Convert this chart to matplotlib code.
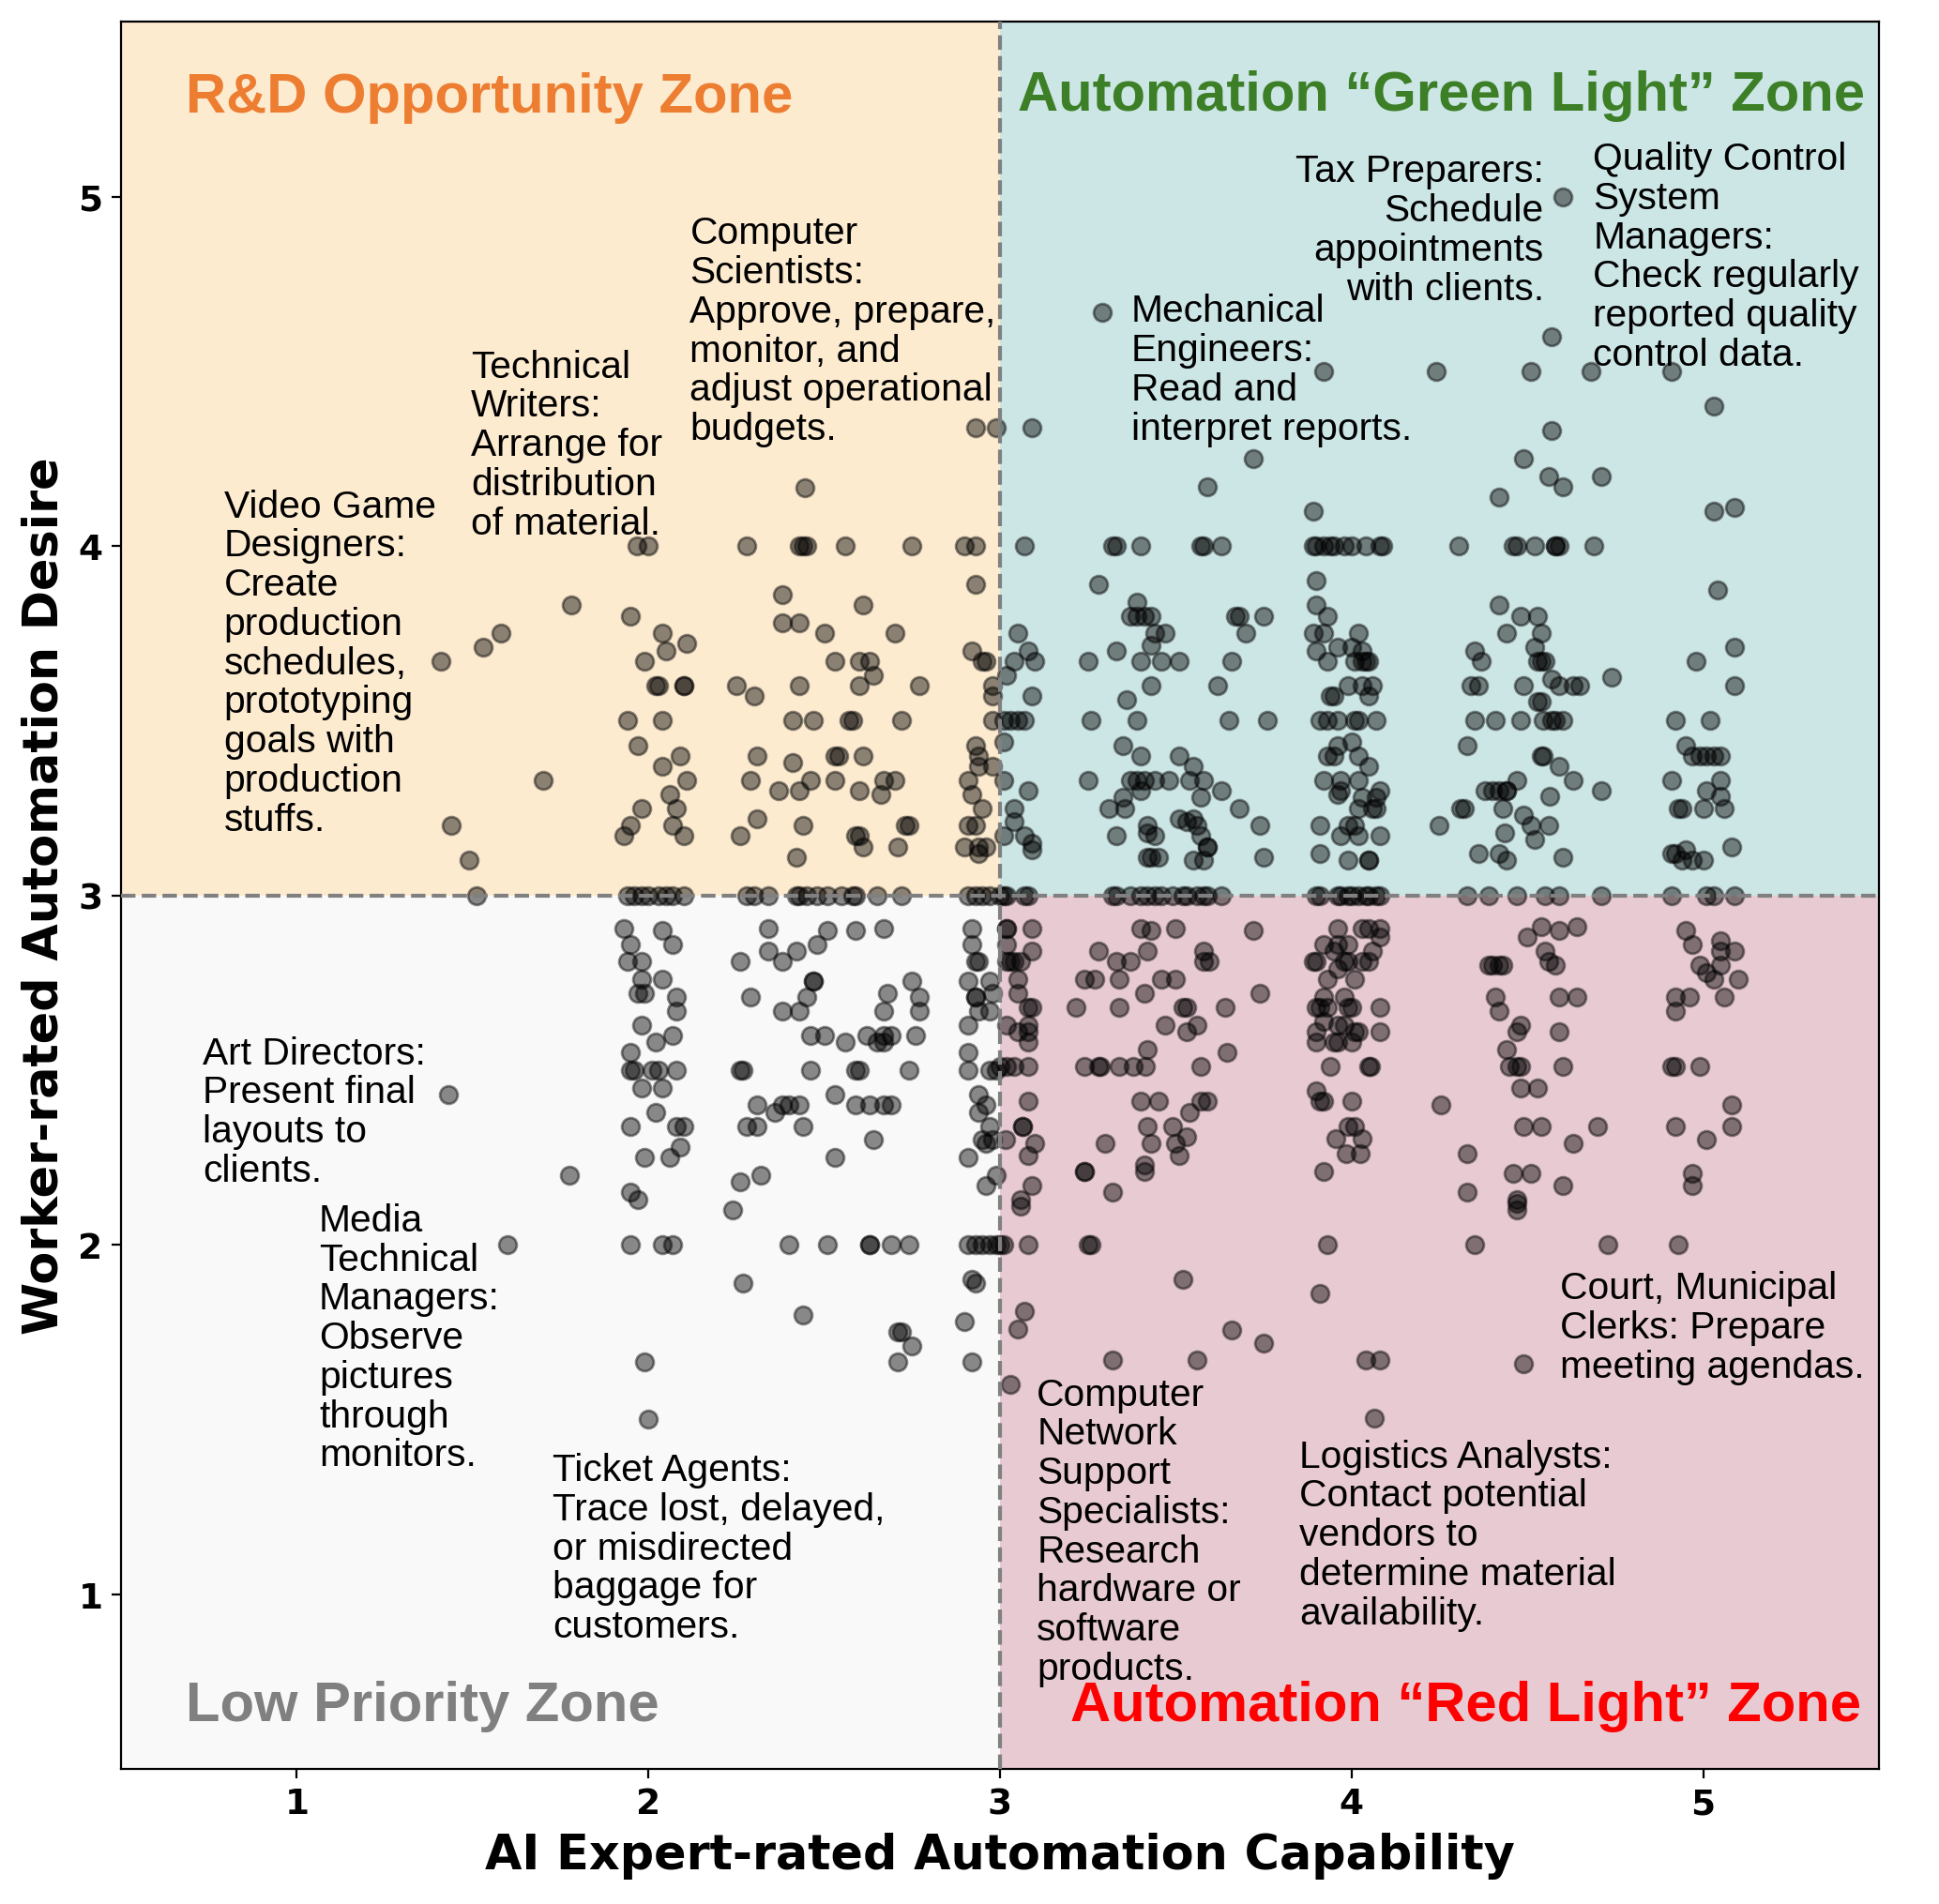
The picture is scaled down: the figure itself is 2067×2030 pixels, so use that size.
import matplotlib
matplotlib.use("Agg")
import matplotlib.pyplot as plt
from matplotlib.patches import Rectangle
import numpy as np

# ---------------- data (AI capability, worker desire) ----------------
tl_x = [2.446, 2.93, 2.99,
        1.967, 1.999, 2.28, 2.43, 2.44, 2.45, 2.56, 2.75, 2.90, 2.93,
        2.93, 2.38, 1.78, 2.61, 1.95, 2.38, 2.43, 1.58, 2.04, 2.50, 2.70,
        1.53, 2.11, 2.05, 2.92, 1.41, 1.99, 2.53, 2.60, 2.63, 2.95, 2.96, 2.64,
        2.02, 2.03, 2.10, 2.10, 2.25, 2.43, 2.60, 2.77, 2.98, 2.30, 2.98,
        1.94, 2.04, 2.41, 2.47, 2.57, 2.58, 2.72, 2.98, 1.97, 2.93,
        2.09, 2.31, 2.53, 2.54, 2.61, 2.94, 2.04, 2.41, 2.94, 2.98,
        1.70, 2.11, 2.29, 2.46, 2.53, 2.67, 2.70, 2.91, 2.37, 2.43, 2.60,
        2.66, 2.06, 2.92, 1.98, 2.08, 2.95, 2.31,
        1.44, 1.95, 2.07, 2.44, 2.73, 2.74, 2.91, 2.93,
        1.93, 2.10, 2.26, 2.59, 2.60, 2.61, 2.71, 2.90, 2.94, 2.96, 2.94,
        1.49, 2.42,
        1.51, 1.94, 1.96, 1.98, 2.00, 2.03, 2.05, 2.07, 2.10, 2.28, 2.30, 2.34,
        2.42, 2.43, 2.45, 2.48, 2.51, 2.55, 2.58, 2.59, 2.65, 2.72, 2.91, 2.93,
        2.95, 2.97]
tl_y = [4.166, 4.34, 4.34,
        4.0, 4.0, 4.0, 4.0, 4.0, 4.0, 4.0, 4.0, 4.0, 4.0,
        3.89, 3.86, 3.83, 3.83, 3.80, 3.78, 3.78, 3.75, 3.75, 3.75, 3.75,
        3.71, 3.72, 3.70, 3.70, 3.67, 3.67, 3.67, 3.67, 3.67, 3.67, 3.67, 3.63,
        3.60, 3.60, 3.60, 3.60, 3.60, 3.60, 3.60, 3.60, 3.60, 3.57, 3.57,
        3.50, 3.50, 3.50, 3.50, 3.50, 3.50, 3.50, 3.50, 3.43, 3.43,
        3.40, 3.40, 3.40, 3.40, 3.40, 3.40, 3.37, 3.38, 3.37, 3.37,
        3.33, 3.33, 3.33, 3.33, 3.33, 3.33, 3.33, 3.33, 3.30, 3.30, 3.30,
        3.29, 3.29, 3.29, 3.25, 3.25, 3.25, 3.22,
        3.20, 3.20, 3.20, 3.20, 3.20, 3.20, 3.20, 3.20,
        3.17, 3.17, 3.17, 3.17, 3.17, 3.14, 3.14, 3.14, 3.14, 3.14, 3.12,
        3.10, 3.11,
        3.0, 3.0, 3.0, 3.0, 3.0, 3.0, 3.0, 3.0, 3.0, 3.0, 3.0, 3.0,
        3.0, 3.0, 3.0, 3.0, 3.0, 3.0, 3.0, 3.0, 3.0, 3.0, 3.0, 3.0,
        3.0, 3.0]

bl_x = [1.43, 1.775, 1.60,
        1.93, 2.04, 1.95, 2.07, 1.94, 1.98, 1.98, 2.04, 1.97, 1.99, 2.08, 2.08,
        1.98, 2.07, 2.02, 1.95, 1.95, 1.96, 2.01, 2.03, 2.08, 1.98, 2.04, 2.02,
        1.95, 2.08, 2.10, 2.09, 1.99, 2.06, 1.95, 1.97, 1.95, 2.04, 2.07, 1.99, 2.0,
        2.34, 2.51, 2.59, 2.67, 2.48, 2.34, 2.42, 2.38, 2.26, 2.47, 2.47, 2.75,
        2.29, 2.45, 2.68, 2.77, 2.38, 2.43, 2.67, 2.77, 2.46, 2.50, 2.56, 2.62,
        2.65, 2.67, 2.67, 2.69, 2.76, 2.26, 2.27, 2.46, 2.59, 2.60, 2.74, 2.53,
        2.31, 2.38, 2.40, 2.43, 2.36, 2.59, 2.63, 2.67, 2.69, 2.28, 2.31, 2.44,
        2.64, 2.53, 2.32, 2.26, 2.24, 2.40, 2.51, 2.63, 2.63, 2.69, 2.74, 2.27,
        2.44, 2.71, 2.72, 2.75, 2.71,
        2.92, 2.92, 2.93, 2.94, 2.91, 2.97, 2.93, 2.93, 2.94, 2.97, 2.98, 2.91,
        2.91, 2.91, 2.97, 2.99, 2.94, 2.96, 2.94, 2.97, 2.95, 2.96, 2.98, 2.91,
        2.99, 2.96, 2.91, 2.93, 2.95, 2.97, 2.99, 2.92, 2.93, 2.90, 2.92]
bl_y = [2.43, 2.20, 2.0,
        2.905, 2.90, 2.86, 2.86, 2.81, 2.81, 2.76, 2.76, 2.72, 2.72, 2.71, 2.67,
        2.63, 2.60, 2.58, 2.55, 2.50, 2.50, 2.50, 2.50, 2.50, 2.45, 2.45, 2.38,
        2.34, 2.34, 2.34, 2.28, 2.25, 2.25, 2.15, 2.13, 2.0, 2.0, 2.0, 1.665, 1.50,
        2.905, 2.90, 2.90, 2.905, 2.86, 2.84, 2.84, 2.81, 2.81, 2.755, 2.755, 2.755,
        2.71, 2.71, 2.72, 2.71, 2.67, 2.67, 2.67, 2.67, 2.60, 2.60, 2.58, 2.60,
        2.58, 2.58, 2.60, 2.60, 2.60, 2.50, 2.50, 2.50, 2.50, 2.50, 2.50, 2.43,
        2.40, 2.40, 2.40, 2.40, 2.38, 2.40, 2.40, 2.40, 2.40, 2.34, 2.34, 2.34,
        2.30, 2.25, 2.20, 2.18, 2.10, 2.0, 2.0, 2.0, 2.0, 2.0, 2.0, 1.89,
        1.80, 1.75, 1.75, 1.71, 1.665,
        2.905, 2.86, 2.81, 2.81, 2.755, 2.755, 2.71, 2.71, 2.67, 2.67, 2.72, 2.63,
        2.55, 2.50, 2.50, 2.50, 2.43, 2.40, 2.38, 2.34, 2.30, 2.29, 2.30, 2.25,
        2.20, 2.17, 2.0, 2.0, 2.0, 2.0, 2.0, 1.90, 1.89, 1.78, 1.665]

tr_x = [3.29, 3.92, 3.09, 3.72, 3.59, 3.89,
        3.07, 3.32, 3.33, 3.40, 3.57, 3.58, 3.63, 3.89, 3.90, 3.92, 3.94, 3.95,
        3.98, 4.00, 4.04, 4.08, 4.09,
        3.28, 3.39, 3.37, 3.39, 3.41, 3.43, 3.67, 3.68, 3.75, 3.70, 3.05, 3.44,
        3.47, 3.08, 3.43, 3.33,
        3.90, 3.90, 3.93, 3.89, 3.92, 4.02, 3.96, 4.00, 4.03, 3.90,
        3.04, 3.10, 3.02, 3.25, 3.40, 3.46, 3.51, 3.66, 3.93, 4.01, 4.03, 4.05, 4.04,
        3.43, 3.62, 3.99, 4.03, 4.06, 3.09, 3.36, 3.94, 3.95, 4.05,
        3.01, 3.03, 3.05, 3.07, 3.26, 3.39, 3.65, 3.76, 3.91, 3.93, 3.96, 4.01, 4.02, 4.07,
        3.01, 3.96, 4.00, 3.35, 3.40, 3.51, 3.55, 3.93, 3.95, 4.02, 4.05,
        3.25, 3.37, 3.39, 3.41, 3.44, 3.48, 3.54, 3.58, 3.01, 3.92, 3.97, 4.02,
        3.40, 3.08, 3.63, 3.57, 3.97, 3.96, 4.08, 4.07, 4.03, 3.35,
        3.04, 3.31, 3.355, 3.68, 4.02, 4.06, 4.07,
        3.04, 3.51, 3.55, 3.42, 3.53, 3.56, 3.74, 3.91, 3.99, 4.01,
        3.07, 3.09, 3.09, 3.01, 3.33, 3.44, 3.42, 3.57, 3.59, 3.59, 3.97, 4.02, 4.08,
        3.42, 3.43, 3.45, 3.55, 3.58, 3.75, 3.91, 3.99, 4.05, 4.05,
        3.00, 3.01, 3.02, 3.07, 3.08, 3.32, 3.33, 3.37, 3.40, 3.42, 3.44, 3.46,
        3.49, 3.52, 3.53, 3.56, 3.58, 3.59, 3.63, 3.90, 3.91, 3.96, 3.97, 3.99,
        4.00, 4.02, 4.04, 4.05, 4.07, 4.08,
        4.60, 4.57, 4.24, 4.51, 4.68, 4.91, 5.03, 4.57, 4.49, 4.56, 4.60, 4.71,
        4.42, 5.03, 5.09,
        4.305, 4.46, 4.47, 4.52, 4.58, 4.58, 4.59, 4.69,
        5.04, 4.42, 4.48, 4.53, 4.44, 4.54, 4.35, 4.52, 4.37, 4.53, 4.54, 4.55,
        5.09, 4.98, 4.74,
        4.34, 4.36, 4.49, 4.57, 4.59, 4.63, 4.65, 5.09, 4.53, 4.54,
        4.35, 4.41, 4.48, 4.545, 4.57, 4.58, 4.60, 4.92, 5.02,
        4.33, 4.54, 4.545, 4.59, 4.95, 4.97, 4.99, 5.01, 5.03, 5.05,
        4.47, 4.63, 4.38, 4.40, 4.42, 4.44, 4.44, 4.565, 4.71, 4.31, 4.32, 4.43,
        4.91, 5.05, 5.01, 5.05, 4.93, 4.94, 5.00, 5.06,
        4.25, 4.49, 4.51, 4.52, 4.56, 4.435, 4.36, 4.42, 4.44, 4.60,
        4.91, 4.92, 4.94, 4.95, 4.97, 5.00, 5.08,
        4.33, 4.39, 4.47, 4.55, 4.59, 4.71, 4.91, 5.01, 5.03, 5.09]
tr_y = [4.67, 4.50, 4.34, 4.25, 4.17, 4.10,
        4.0, 4.0, 4.0, 4.0, 4.0, 4.0, 4.0, 4.0, 4.0, 4.0, 4.0, 4.0,
        4.0, 4.0, 4.0, 4.0, 4.0,
        3.89, 3.84, 3.80, 3.80, 3.80, 3.80, 3.80, 3.80, 3.80, 3.75, 3.75, 3.75,
        3.75, 3.70, 3.715, 3.70,
        3.90, 3.83, 3.80, 3.75, 3.75, 3.75, 3.71, 3.71, 3.70, 3.70,
        3.67, 3.67, 3.63, 3.67, 3.67, 3.67, 3.67, 3.67, 3.67, 3.67, 3.67, 3.67, 3.67,
        3.60, 3.60, 3.60, 3.60, 3.60, 3.57, 3.56, 3.57, 3.57, 3.57,
        3.50, 3.50, 3.50, 3.50, 3.50, 3.50, 3.50, 3.50, 3.50, 3.50, 3.50, 3.50, 3.50, 3.50,
        3.44, 3.43, 3.44, 3.43, 3.40, 3.40, 3.37, 3.40, 3.40, 3.40, 3.37,
        3.33, 3.33, 3.33, 3.33, 3.33, 3.33, 3.33, 3.33, 3.33, 3.33, 3.33, 3.33,
        3.30, 3.30, 3.30, 3.28, 3.30, 3.29, 3.30, 3.28, 3.28, 3.28,
        3.25, 3.25, 3.25, 3.25, 3.25, 3.25, 3.25,
        3.21, 3.22, 3.22, 3.20, 3.21, 3.20, 3.20, 3.20, 3.20, 3.20,
        3.17, 3.15, 3.13, 3.17, 3.17, 3.17, 3.18, 3.17, 3.14, 3.14, 3.17, 3.17, 3.17,
        3.11, 3.11, 3.11, 3.10, 3.10, 3.11, 3.12, 3.10, 3.10, 3.10,
        3.0, 3.0, 3.0, 3.0, 3.0, 3.0, 3.0, 3.0, 3.0, 3.0, 3.0, 3.0,
        3.0, 3.0, 3.0, 3.0, 3.0, 3.0, 3.0, 3.0, 3.0, 3.0, 3.0, 3.0,
        3.0, 3.0, 3.0, 3.0, 3.0, 3.0,
        5.00, 4.60, 4.50, 4.50, 4.50, 4.50, 4.40, 4.33, 4.25, 4.20, 4.17, 4.20,
        4.14, 4.10, 4.11,
        4.0, 4.0, 4.0, 4.0, 4.0, 4.0, 4.0, 4.0,
        3.875, 3.83, 3.80, 3.80, 3.75, 3.75, 3.70, 3.71, 3.67, 3.67, 3.67, 3.67,
        3.71, 3.67, 3.625,
        3.60, 3.60, 3.60, 3.62, 3.60, 3.60, 3.60, 3.60, 3.555, 3.555,
        3.50, 3.50, 3.50, 3.50, 3.50, 3.50, 3.50, 3.50, 3.50,
        3.43, 3.40, 3.40, 3.37, 3.43, 3.40, 3.40, 3.40, 3.40, 3.40,
        3.33, 3.33, 3.30, 3.30, 3.30, 3.30, 3.30, 3.285, 3.30, 3.25, 3.25, 3.25,
        3.33, 3.33, 3.30, 3.285, 3.25, 3.25, 3.25, 3.25,
        3.20, 3.23, 3.20, 3.16, 3.20, 3.18, 3.12, 3.12, 3.10, 3.11,
        3.12, 3.12, 3.10, 3.13, 3.10, 3.10, 3.14,
        3.0, 3.0, 3.0, 3.0, 3.0, 3.0, 3.0, 3.0, 3.0, 3.0]

br_x = [3.02, 3.02, 3.09, 3.02, 3.09, 3.02, 3.03, 3.04, 3.06, 3.05, 3.05, 3.08,
        3.09, 3.08, 3.02, 3.05, 3.08, 3.08, 3.00, 3.02, 3.04, 3.08, 3.08, 3.065,
        3.065, 3.015, 3.10, 3.08, 3.09, 3.06, 3.06, 3.00, 3.01, 3.08, 3.07, 3.05, 3.03,
        3.40, 3.43, 3.50, 3.72, 3.28, 3.42, 3.58, 3.58, 3.595, 3.33, 3.37, 3.24,
        3.27, 3.34, 3.46, 3.50, 3.41, 3.74, 3.215, 3.34, 3.52, 3.53, 3.64, 3.47,
        3.56, 3.53, 3.42, 3.645,
        3.24, 3.28, 3.285, 3.34, 3.38, 3.415, 3.57, 3.40, 3.45, 3.54, 3.57, 3.59,
        3.42, 3.49, 3.43, 3.53, 3.50, 3.51, 3.30, 3.24, 3.24, 3.41, 3.41, 3.32,
        3.25, 3.26, 3.52, 3.66, 3.75, 3.32, 3.56,
        3.96, 4.03, 4.05, 4.08, 4.08, 3.92, 3.96, 3.99, 4.06, 3.95, 3.89, 3.90,
        3.98, 3.99, 4.03, 4.05, 3.96, 3.93, 4.01, 3.92, 3.98, 3.90, 3.91, 3.93,
        3.99, 4.00, 4.08, 3.92, 3.96, 3.98, 3.90, 4.01, 4.02, 4.08, 3.90, 3.95,
        3.96, 4.00, 3.94, 4.05, 4.055, 3.90, 3.91, 3.92, 4.00, 3.99, 4.01, 3.955,
        4.03, 3.985, 4.025, 3.92, 3.93, 3.91, 4.04, 4.08, 4.065,
        4.50, 4.54, 4.59, 4.64, 4.55, 4.39, 4.40, 4.42, 4.43, 4.56, 4.58, 4.41,
        4.42, 4.59, 4.64, 4.48, 4.47, 4.59, 4.44, 4.45, 4.47, 4.48, 4.60, 4.48,
        4.53, 4.255, 4.49, 4.54, 4.70, 4.63, 4.33, 4.46, 4.51, 4.60, 4.33, 4.47,
        4.47, 4.47, 4.35, 4.73, 4.93, 4.49,
        4.95, 4.97, 5.05, 5.05, 5.09, 5.05, 4.99, 5.01, 5.03, 5.10, 4.92, 4.96,
        4.92, 5.06, 4.91, 4.92, 4.99, 5.08, 4.92, 5.08, 5.01, 4.97, 4.97]
br_y = [2.906, 2.906, 2.906, 2.86, 2.84, 2.81, 2.81, 2.81, 2.81, 2.76, 2.72, 2.68,
        2.68, 2.63, 2.63, 2.61, 2.61, 2.58, 2.51, 2.51, 2.51, 2.51, 2.41, 2.34,
        2.34, 2.30, 2.29, 2.255, 2.17, 2.13, 2.11, 2.0, 2.0, 2.0, 1.81, 1.76, 1.60,
        2.906, 2.90, 2.906, 2.90, 2.84, 2.84, 2.84, 2.81, 2.81, 2.81, 2.81, 2.76,
        2.76, 2.76, 2.76, 2.76, 2.72, 2.72, 2.68, 2.68, 2.68, 2.68, 2.68, 2.63,
        2.63, 2.61, 2.56, 2.55,
        2.51, 2.51, 2.51, 2.51, 2.51, 2.51, 2.51, 2.41, 2.41, 2.38, 2.41, 2.41,
        2.34, 2.34, 2.29, 2.31, 2.29, 2.255, 2.29, 2.21, 2.21, 2.23, 2.21, 2.15,
        2.0, 2.0, 1.90, 1.755, 1.72, 1.67, 1.67,
        2.906, 2.906, 2.906, 2.906, 2.88, 2.86, 2.86, 2.86, 2.84, 2.84, 2.81, 2.81,
        2.81, 2.81, 2.81, 2.81, 2.79, 2.76, 2.76, 2.71, 2.71, 2.68, 2.68, 2.68,
        2.68, 2.68, 2.68, 2.64, 2.63, 2.63, 2.61, 2.61, 2.61, 2.61, 2.58, 2.58,
        2.58, 2.58, 2.51, 2.51, 2.51, 2.44, 2.41, 2.41, 2.41, 2.34, 2.34, 2.305,
        2.305, 2.26, 2.26, 2.21, 2.0, 1.86, 1.67, 1.67, 1.505,
        2.88, 2.91, 2.90, 2.91, 2.84, 2.80, 2.80, 2.80, 2.80, 2.81, 2.80, 2.71,
        2.67, 2.71, 2.71, 2.63, 2.61, 2.61, 2.56, 2.51, 2.51, 2.51, 2.51, 2.45,
        2.45, 2.40, 2.34, 2.34, 2.34, 2.29, 2.26, 2.205, 2.205, 2.17, 2.15, 2.13,
        2.12, 2.10, 2.0, 2.0, 2.0, 1.66,
        2.90, 2.86, 2.87, 2.84, 2.84, 2.80, 2.80, 2.78, 2.76, 2.76, 2.71, 2.71,
        2.67, 2.71, 2.51, 2.51, 2.51, 2.40, 2.34, 2.34, 2.30, 2.205, 2.17]

capability = np.array(tl_x + bl_x + tr_x + br_x)
desire = np.array(tl_y + bl_y + tr_y + br_y)

# annotated example tasks
notes = [
    "Video Game\nDesigners:\nCreate\nproduction\nschedules,\nprototyping\ngoals with\nproduction\nstuffs.",
    "Technical\nWriters:\nArrange for\ndistribution\nof material.",
    "Computer\nScientists:\nApprove, prepare,\nmonitor, and\nadjust operational\nbudgets.",
    "Mechanical\nEngineers:\nRead and\ninterpret reports.",
    "Tax Preparers:\nSchedule\nappointments\nwith clients.",
    "Quality Control\nSystem\nManagers:\nCheck regularly\nreported quality\ncontrol data.",
    "Art Directors:\nPresent final\nlayouts to\nclients.",
    "Media\nTechnical\nManagers:\nObserve\npictures\nthrough\nmonitors.",
    "Ticket Agents:\nTrace lost, delayed,\nor misdirected\nbaggage for\ncustomers.",
    "Computer\nNetwork\nSupport\nSpecialists:\nResearch\nhardware or\nsoftware\nproducts.",
    "Logistics Analysts:\nContact potential\nvendors to\ndetermine material\navailability.",
    "Court, Municipal\nClerks: Prepare\nmeeting agendas.",
]
note_x = [0.793, 1.496, 2.118, 3.373, 4.547, 4.687, 0.733, 1.063, 1.728, 3.105, 3.851, 4.592]
note_y = [4.165, 4.565, 4.947, 4.724, 5.124, 5.16, 2.60, 2.122, 1.407, 1.623, 1.446, 1.927]
note_ha = ["left", "left", "left", "left", "right", "left",
           "left", "left", "left", "left", "left", "left"]

zone_names = ["R&D Opportunity Zone", "Automation \u201cGreen Light\u201d Zone",
              "Low Priority Zone", "Automation \u201cRed Light\u201d Zone"]
zone_colors = ["#ED7D31", "#3C7F26", "#808080", "#FF0000"]
zone_bg = ["#FDEBD0", "#CCE5E5", "#F9F9F9", "#E7CAD2"]

# ---------------- figure ----------------
fig = plt.figure(figsize=(10.335, 10.155), dpi=200)
ax = fig.add_axes([0.0624, 0.0709, 0.9066, 0.9171])
ax.set_xlim(0.5, 5.5)
ax.set_ylim(0.5, 5.5)

# quadrant backgrounds
quads = [(0.5, 3.0), (3.0, 3.0), (0.5, 0.5), (3.0, 0.5)]
for (qx, qy), col in zip(quads, zone_bg):
    ax.add_patch(Rectangle((qx, qy), 2.5, 2.5, facecolor=col, edgecolor="none", zorder=0))

ax.scatter(capability, desire, s=46, c="black", alpha=0.45,
           edgecolors="black", linewidths=1.0, zorder=2)

ax.axvline(3, color="gray", linestyle="--", linewidth=1.5, zorder=3)
ax.axhline(3, color="gray", linestyle="--", linewidth=1.5, zorder=3)

for txt, tx, ty, ha in zip(notes, note_x, note_y, note_ha):
    ax.text(tx, ty, txt, ha=ha, va="top", multialignment=ha,
            fontsize=14.7, family="Liberation Sans", linespacing=1.125, zorder=4)

zone_pos = [(0.684, 5.244, "left"), (5.46, 5.248, "right"),
            (0.684, 0.639, "left"), (5.45, 0.639, "right")]
for name, col, (zx, zy, ha) in zip(zone_names, zone_colors, zone_pos):
    ax.text(zx, zy, name, ha=ha, va="baseline", color=col, fontsize=21.5,
            fontweight="bold", family="Liberation Sans", zorder=4)

ax.set_xticks([1, 2, 3, 4, 5])
ax.set_yticks([1, 2, 3, 4, 5])
ax.tick_params(labelsize=13.5)
for lab in ax.get_xticklabels() + ax.get_yticklabels():
    lab.set_fontweight("bold")

ax.set_xlabel("AI Expert-rated Automation Capability", fontsize=18.3, fontweight="bold")
ax.set_ylabel("Worker-rated Automation Desire", fontsize=18.3, fontweight="bold")

fig.savefig("out.png", dpi=200)
